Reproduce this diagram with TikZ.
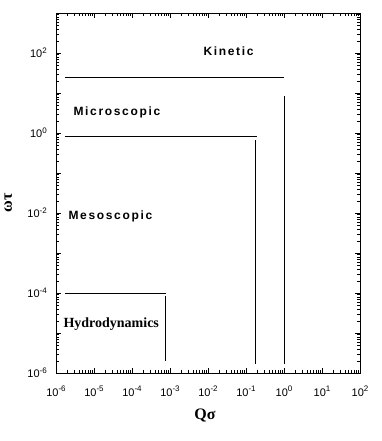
\documentclass[tikz,border=0pt]{standalone}
\usepackage{fontspec}
\setmainfont{Liberation Serif}
\newfontfamily\tickfont{Liberation Sans}
\newfontfamily\regionfont[LetterSpace=14]{Liberation Sans}
\begin{document}
\begin{tikzpicture}[x=1pt,y=-1pt,
  frame/.style={line width=0.9pt},
  tickline/.style={line width=0.7pt},
  bound/.style={line width=0.9pt},
  ticklab/.style={font=\tickfont\fontsize{11}{13}\selectfont, inner sep=0pt},
  region/.style={font=\regionfont\bfseries\fontsize{12}{14}\selectfont, inner sep=0pt, anchor=base west},
  serifbold/.style={font=\bfseries\fontsize{14}{16}\selectfont, inner sep=0pt, anchor=base west},
  axtitle/.style={font=\bfseries\fontsize{16}{18}\selectfont, inner sep=0pt}]
\useasboundingbox (0,0) rectangle (382,441);
\fill[white] (0,0) rectangle (382,441);
% frame
\draw[frame] (56,13) rectangle (360,373);
% major ticks x
\foreach \i in {0,...,8} {
  \draw[tickline] (56+38*\i,373) -- ++(0,-5);
  \draw[tickline] (56+38*\i,13) -- ++(0,5);
}
% minor ticks x
\foreach \i in {0,...,7} {
  \foreach \k in {2,...,9} {
    \pgfmathsetmacro\xx{56+38*(\i+log10(\k))}
    \draw[tickline] (\xx,373) -- ++(0,-3);
    \draw[tickline] (\xx,13) -- ++(0,3);
  }
}
% major ticks y
\foreach \i in {0,...,9} {
  \draw[tickline] (56,373-40*\i) -- ++(5,0);
  \draw[tickline] (360,373-40*\i) -- ++(-5,0);
}
% minor ticks y
\foreach \i in {0,...,8} {
  \foreach \k in {2,...,9} {
    \pgfmathsetmacro\yy{373-40*(\i+log10(\k))}
    \draw[tickline] (56,\yy) -- ++(3,0);
    \draw[tickline] (360,\yy) -- ++(-3,0);
  }
}
% x tick labels
\foreach \e [count=\i from 0] in {-6,-5,-4,-3,-2,-1,0,1,2} {
  \node[ticklab, anchor=base] (xl\i) at (56+38*\i,396) {10\raisebox{0.7ex}{\fontsize{8}{9}\selectfont\e}};
}
% y tick labels
\foreach \e [count=\i from 0] in {-6,-4,-2,0,2} {
  \node[ticklab, anchor=base east] (yl\i) at (47,373-80*\i+4.5) {10\raisebox{0.7ex}{\fontsize{8}{9}\selectfont\e}};
}
% axis titles
\node[axtitle, anchor=base] (xt) at (205,419) {Qσ};
\node[axtitle, rotate=90, anchor=base] (yt) at (12,203) {ωτ};
% boundary lines
\coordinate (k1) at (65,77.3);   \coordinate (k2) at (284,77.3);
\coordinate (kv1) at (284,96.3); \coordinate (kv2) at (284,364.3);
\coordinate (m1) at (65,136.3);  \coordinate (m2) at (256.7,136.3);
\coordinate (mv1) at (255.5,140); \coordinate (mv2) at (255.5,364.3);
\coordinate (h1) at (65,293.3);  \coordinate (h2) at (165.7,293.3);
\coordinate (hv1) at (165.5,295.7); \coordinate (hv2) at (165.5,360.7);
\draw[bound] (k1) -- (k2);
\draw[bound] (kv1) -- (kv2);
\draw[bound] (m1) -- (m2);
\draw[bound] (mv1) -- (mv2);
\draw[bound] (h1) -- (h2);
\draw[bound] (hv1) -- (hv2);
% region labels
\node[region] (kin) at (203.3,55.5) {Kinetic};
\node[region] (mic) at (73.3,115) {Microscopic};
\node[region] (mes) at (68.3,219) {Mesoscopic};
\node[serifbold] (hyd) at (63.3,327.7) {Hydrodynamics};
\end{tikzpicture}
\end{document}
